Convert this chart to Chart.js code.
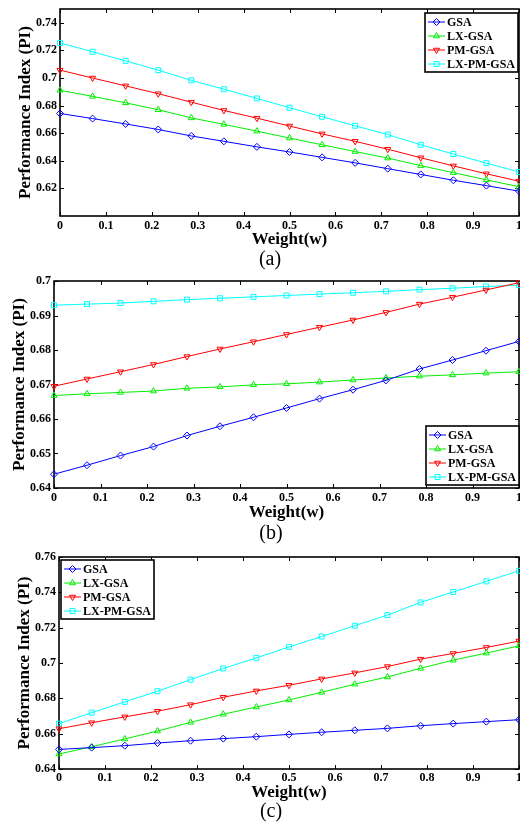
<!DOCTYPE html>
<html>
<head>
<meta charset="utf-8">
<script src="https://cdn.jsdelivr.net/npm/chart.js@4.4.1/dist/chart.umd.min.js"></script>
<style>
  body { margin: 0; background: #fff; width: 520px; height: 827px; position: relative; overflow: hidden; }
  canvas { position: absolute; left: 0; }
  .caption { position: absolute; font-family: 'Liberation Serif', serif; font-size: 20px; transform: translate(-50%, -50%); white-space: nowrap; }
</style>
</head>
<body>
<canvas id="chartA" width="520" height="250" style="top:0px"></canvas>
<div class="caption" style="left:270px; top:258px">(a)</div>
<canvas id="chartB" width="520" height="253" style="top:270px"></canvas>
<div class="caption" style="left:271px; top:532px">(b)</div>
<canvas id="chartC" width="520" height="253" style="top:550px"></canvas>
<div class="caption" style="left:271px; top:810px">(c)</div>

<script>
// weight values on the x axis
const weights = [0, 0.071, 0.143, 0.214, 0.286, 0.357, 0.429, 0.5, 0.571, 0.643, 0.714, 0.786, 0.857, 0.929, 1];
const xTicks = [0, 0.1, 0.2, 0.3, 0.4, 0.5, 0.6, 0.7, 0.8, 0.9, 1];
const seriesNames = ['GSA', 'LX-GSA', 'PM-GSA', 'LX-PM-GSA'];

// (a)
const gsaA  = [0.6743, 0.6706, 0.6667, 0.6627, 0.6580, 0.6541, 0.6501, 0.6464, 0.6425, 0.6385, 0.6343, 0.6301, 0.6259, 0.6220, 0.6180];
const lxA   = [0.6911, 0.6867, 0.6820, 0.6770, 0.6711, 0.6664, 0.6615, 0.6565, 0.6516, 0.6467, 0.6420, 0.6365, 0.6314, 0.6262, 0.6212];
const pmA   = [0.7057, 0.7000, 0.6943, 0.6886, 0.6825, 0.6765, 0.6709, 0.6652, 0.6595, 0.6541, 0.6484, 0.6422, 0.6363, 0.6306, 0.6252];
const lxpmA = [0.7254, 0.7190, 0.7124, 0.7057, 0.6983, 0.6919, 0.6852, 0.6785, 0.6719, 0.6654, 0.6590, 0.6516, 0.6449, 0.6383, 0.6319];
const yTicksA = [0.62, 0.64, 0.66, 0.68, 0.70, 0.72, 0.74];

// (b)
const gsaB  = [0.6440, 0.6466, 0.6494, 0.6520, 0.6552, 0.6579, 0.6605, 0.6632, 0.6659, 0.6685, 0.6712, 0.6745, 0.6771, 0.6798, 0.6825];
const lxB   = [0.6668, 0.6673, 0.6677, 0.6681, 0.6689, 0.6693, 0.6699, 0.6702, 0.6707, 0.6713, 0.6719, 0.6724, 0.6728, 0.6733, 0.6737];
const pmB   = [0.6695, 0.6716, 0.6737, 0.6758, 0.6781, 0.6803, 0.6824, 0.6845, 0.6866, 0.6887, 0.6909, 0.6933, 0.6953, 0.6974, 0.6995];
const lxpmB = [0.6930, 0.6933, 0.6936, 0.6941, 0.6946, 0.6950, 0.6954, 0.6958, 0.6962, 0.6966, 0.6970, 0.6975, 0.6979, 0.6984, 0.6988];
const yTicksB = [0.64, 0.65, 0.66, 0.67, 0.68, 0.69, 0.70];

// (c)
const gsaC  = [0.6511, 0.6521, 0.6532, 0.6547, 0.6560, 0.6572, 0.6583, 0.6596, 0.6608, 0.6619, 0.6630, 0.6645, 0.6657, 0.6668, 0.6679];
const lxC   = [0.6485, 0.6526, 0.6570, 0.6615, 0.6664, 0.6710, 0.6751, 0.6791, 0.6834, 0.6880, 0.6921, 0.6970, 0.7016, 0.7056, 0.7097];
const pmC   = [0.6628, 0.6662, 0.6695, 0.6727, 0.6764, 0.6806, 0.6842, 0.6874, 0.6910, 0.6944, 0.6980, 0.7022, 0.7054, 0.7088, 0.7124];
const lxpmC = [0.6657, 0.6719, 0.6780, 0.6840, 0.6906, 0.6969, 0.7029, 0.7091, 0.7150, 0.7211, 0.7271, 0.7343, 0.7402, 0.7462, 0.7522];
const yTicksC = [0.64, 0.66, 0.68, 0.70, 0.72, 0.74, 0.76];

const FONT = "'Liberation Serif', 'Times New Roman', serif";
const styles = [
  { color: '#0000ff', point: 'rectRot', rot: 0 },
  { color: '#00ee00', point: 'triangle', rot: 0 },
  { color: '#ff0000', point: 'triangle', rot: 180 },
  { color: '#00ffff', point: 'rect', rot: 0 }
];

const fmt = v => String(parseFloat(v.toFixed(2)));

// axes box with inward tick marks, and the boxed legend inside the plot
const frame = {
  id: 'frame',
  beforeDatasetsDraw(chart) {
    const { ctx, chartArea: a, scales } = chart;
    ctx.save();
    ctx.strokeStyle = '#000';
    ctx.lineWidth = 1;
    ctx.beginPath();
    scales.x.ticks.forEach(t => {
      const px = Math.round(scales.x.getPixelForValue(t.value)) + 0.5;
      ctx.moveTo(px, a.bottom); ctx.lineTo(px, a.bottom - 4);
      ctx.moveTo(px, a.top); ctx.lineTo(px, a.top + 4);
    });
    scales.y.ticks.forEach(t => {
      const py = Math.round(scales.y.getPixelForValue(t.value)) + 0.5;
      ctx.moveTo(a.left, py); ctx.lineTo(a.left + 4, py);
      ctx.moveTo(a.right, py); ctx.lineTo(a.right - 4, py);
    });
    ctx.stroke();
    ctx.lineWidth = 1.6;
    ctx.strokeRect(a.left, a.top, a.right - a.left, a.bottom - a.top);
    ctx.restore();
  },
  afterDraw(chart, args, opts) {
    const { ctx, chartArea: a } = chart;
    const w = 93, h = 59;
    const x = opts.corner.includes('Right') ? a.right - opts.dx - w : a.left + opts.dx;
    const y = opts.corner.includes('bottom') ? a.bottom - opts.dy - h : a.top + opts.dy;
    ctx.save();
    ctx.fillStyle = '#fff';
    ctx.fillRect(x, y, w, h);
    ctx.strokeStyle = '#000';
    ctx.lineWidth = 1.6;
    ctx.strokeRect(x, y, w, h);
    ctx.font = 'bold 12px ' + FONT;
    ctx.textBaseline = 'middle';
    chart.data.datasets.forEach((ds, i) => {
      const cy = y + 9 + i * 14;
      ctx.strokeStyle = ds.borderColor;
      ctx.lineWidth = 1;
      ctx.beginPath();
      ctx.moveTo(x + 3, cy); ctx.lineTo(x + 20, cy);
      ctx.stroke();
      ctx.fillStyle = 'rgba(255,255,255,0)';
      Chart.helpers.drawPoint(ctx, {
        pointStyle: ds.pointStyle, rotation: ds.pointRotation, radius: 3.5, borderWidth: 1
      }, x + 11.5, cy);
      ctx.fillStyle = '#000';
      ctx.fillText(ds.label, x + 22, cy + 0.5);
    });
    ctx.restore();
  }
};

function makeChart(id, series, yTicks, yMin, yMax, yWidth, padTop, xHeight, xPad, legend) {
  new Chart(document.getElementById(id), {
    type: 'line',
    data: {
      datasets: series.map((vals, i) => ({
        label: seriesNames[i],
        data: vals.map((v, k) => ({ x: weights[k], y: v })),
        borderColor: styles[i].color,
        borderWidth: 1,
        pointStyle: styles[i].point,
        pointRotation: styles[i].rot,
        pointRadius: 3.5,
        pointBorderWidth: 1,
        pointBorderColor: styles[i].color,
        pointBackgroundColor: 'rgba(255,255,255,0)',
        tension: 0,
        clip: false
      }))
    },
    options: {
      responsive: false,
      animation: false,
      layout: { autoPadding: false, padding: { top: padTop, right: 1, left: 0, bottom: 0 } },
      plugins: {
        legend: { display: false },
        tooltip: { enabled: false },
        frame: legend
      },
      scales: {
        x: {
          type: 'linear', min: 0, max: 1,
          grid: { display: false, drawTicks: false },
          border: { display: false },
          afterBuildTicks: s => { s.ticks = xTicks.map(v => ({ value: v })); },
          afterFit: s => { s.height = xHeight; s.paddingLeft = 0; s.paddingRight = 0; },
          ticks: {
            padding: xPad, color: '#000', maxRotation: 0, autoSkip: false,
            font: { family: FONT, size: 12, weight: 'bold' },
            callback: v => fmt(v)
          },
          title: {
            display: true, text: 'Weight(w)', color: '#000',
            font: { family: FONT, size: 17, weight: 'bold' },
            padding: { top: 0, bottom: 0 }
          }
        },
        y: {
          type: 'linear', min: yMin, max: yMax,
          grid: { display: false, drawTicks: false },
          border: { display: false },
          afterBuildTicks: s => { s.ticks = yTicks.map(v => ({ value: v })); },
          afterFit: s => { s.width = yWidth; s.paddingTop = 0; s.paddingBottom = 0; },
          ticks: {
            padding: 3, color: '#000', autoSkip: false,
            font: { family: FONT, size: 12, weight: 'bold' },
            callback: v => fmt(v)
          },
          title: {
            display: true, text: 'Performance Index (PI)', color: '#000',
            font: { family: FONT, size: 17, weight: 'bold' },
            padding: { top: yWidth - 45, bottom: 0 }
          }
        }
      }
    },
    plugins: [frame]
  });
}

makeChart('chartA', [gsaA, lxA, pmA, lxpmA], yTicksA, 0.60, 0.75, 60, 9, 34, 3,
  { corner: 'topRight', dx: 1, dy: 4 });
makeChart('chartB', [gsaB, lxB, pmB, lxpmB], yTicksB, 0.64, 0.70, 54, 11, 35, 3,
  { corner: 'bottomRight', dx: 0, dy: 3 });
makeChart('chartC', [gsaC, lxC, pmC, lxpmC], yTicksC, 0.64, 0.76, 59, 7, 34, 2,
  { corner: 'topLeft', dx: 2, dy: 3 });
</script>
</body>
</html>
